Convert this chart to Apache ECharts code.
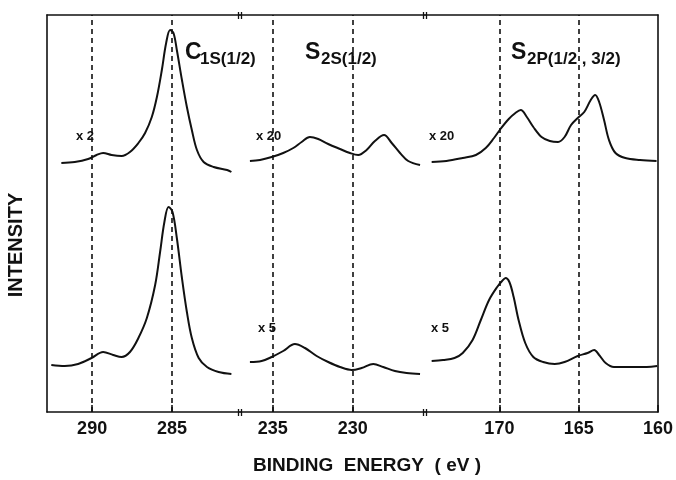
<!DOCTYPE html>
<html>
<head>
    <meta charset="utf-8">
    <title>XPS spectra</title>
    <script src="https://cdn.jsdelivr.net/npm/echarts@6/dist/echarts.min.js"></script>
</head>
<body style="margin:0">
<div id="xps" style="width: 676px;height:480px;"></div>
</body>

<script type="text/javascript">

    // binding energy (eV), intensity (arb. units)
    var c1sTop = [[291.93,249],[291.09,250],[290.25,253],[289.72,257],[289.31,259],[288.78,257],[288.15,256],[287.63,260],[287.10,269],[286.68,279],[286.26,295],[285.94,315],[285.63,342],[285.36,369],[285.11,382],[284.90,379],[284.69,362],[284.37,332],[284.06,305],[283.75,282],[283.43,262],[283.01,250],[282.38,245],[281.54,242],[281.27,240]];
    var c1sBottom = [[292.56,47],[291.72,46],[290.88,48],[290.04,54],[289.31,60],[288.68,57],[288.15,55],[287.63,60],[287.10,74],[286.57,94],[286.05,127],[285.74,160],[285.47,190],[285.21,205],[284.96,200],[284.69,174],[284.37,134],[284.06,100],[283.75,74],[283.32,54],[282.80,45],[282.07,40],[281.27,38]];
    var s2sTop = [[236.42,251],[235.79,252],[235.06,255],[234.34,259],[233.71,264],[233.19,270],[232.67,275],[232.15,273],[231.53,268],[230.79,263],[230.17,259],[229.65,257],[229.13,262],[228.61,271],[228.04,277],[227.56,269],[227.04,259],[226.53,251],[225.79,247]];
    var s2sBottom = [[236.42,50],[235.69,51],[235.06,55],[234.34,61],[233.61,68],[232.98,64],[232.25,56],[231.53,50],[230.79,45],[230.06,42],[229.44,44],[228.71,48],[228.09,45],[227.36,41],[226.63,39],[225.79,38]];
    var s2pTop = [[174.27,250],[173.34,251],[172.31,254],[171.48,257],[170.86,264],[170.34,274],[169.93,283],[169.41,293],[168.99,299],[168.65,302],[168.27,295],[167.86,285],[167.34,275],[166.82,271],[166.30,270],[165.89,275],[165.48,287],[165.06,294],[164.65,300],[164.24,312],[163.96,317],[163.71,310],[163.40,292],[163.09,272],[162.68,259],[162.06,254],[161.13,252],[160.09,251]];
    var s2pBottom = [[174.27,51],[173.55,52],[172.83,54],[172.31,59],[171.69,72],[171.17,92],[170.65,112],[170.14,125],[169.83,131],[169.61,134],[169.37,130],[169.10,115],[168.79,92],[168.37,69],[167.86,55],[167.24,50],[166.51,48],[165.89,50],[165.06,56],[164.44,59],[164.02,62],[163.71,57],[163.30,49],[162.78,45],[161.75,45],[160.71,45],[160.05,46]];

    // axis ticks and dashed reference lines per panel
    var c1sTicks = [290, 285];
    var s2sTicks = [235, 230];
    var s2pTicks = [170, 165, 160];
    var c1sRefs = [290, 285];
    var s2sRefs = [235, 230];
    var s2pRefs = [170, 165];

    var ink = '#111';
    var font = "'Liberation Sans', Arial, sans-serif";

    var myChart = echarts.init(document.getElementById('xps'));

    function bottomAxis(grid, min, max, ticks) {
        return {
            type: 'value', gridIndex: grid, position: 'bottom', inverse: true,
            min: min, max: max,
            axisLine: {show: true, lineStyle: {color: ink, width: 1.6}},
            axisTick: {show: true, inside: true, length: 7, customValues: ticks, lineStyle: {color: ink, width: 1.6}},
            axisLabel: {show: true, customValues: ticks, color: ink, fontSize: 18, fontWeight: 'bold', fontFamily: font, margin: 8},
            splitLine: {show: false}
        };
    }
    function topAxis(grid, min, max) {
        return {
            type: 'value', gridIndex: grid, position: 'top', inverse: true,
            min: min, max: max,
            axisLine: {show: true, onZero: false, lineStyle: {color: ink, width: 1.6}},
            axisTick: {show: false}, axisLabel: {show: false}, splitLine: {show: false}
        };
    }
    function yAx(grid, pos, showLine) {
        return {
            type: 'value', gridIndex: grid, position: pos, min: 0, max: 397,
            axisLine: {show: showLine, lineStyle: {color: ink, width: 1.6}},
            axisTick: {show: false}, axisLabel: {show: false}, splitLine: {show: false}
        };
    }
    function refLines(vals) {
        return {
            silent: true, symbol: 'none', label: {show: false},
            lineStyle: {color: ink, type: [5, 4], width: 1.6},
            data: vals.map(function (v) { return {xAxis: v}; })
        };
    }
    function curve(name, x, y, data, refs) {
        var s = {
            name: name, type: 'line', xAxisIndex: x, yAxisIndex: y, data: data,
            smooth: 0.35, showSymbol: false, silent: true,
            lineStyle: {color: ink, width: 2}
        };
        if (refs) s.markLine = refLines(refs);
        return s;
    }
    function txt(x, y, s, size, extra, rot) {
        var st = {text: s, fill: ink, font: 'bold ' + size + 'px ' + font, textVerticalAlign: 'top'};
        if (extra) for (var k in extra) st[k] = extra[k];
        return {type: 'text', x: x, y: y, rotation: rot || 0, style: st, silent: true};
    }
    function breakMark(x, y) {
        return {
            type: 'group', silent: true,
            children: [
                {type: 'line', shape: {x1: x - 1.5, y1: y - 3, x2: x - 1.5, y2: y + 4}, style: {stroke: ink, lineWidth: 1.3}},
                {type: 'line', shape: {x1: x + 1.5, y1: y - 3, x2: x + 1.5, y2: y + 4}, style: {stroke: ink, lineWidth: 1.3}}
            ]
        };
    }

    var mid = {textAlign: 'center', textVerticalAlign: 'middle'};

    myChart.setOption({
        animation: false,
        grid: [
            {left: 47, top: 15, width: 193, height: 397},
            {left: 240, top: 15, width: 185, height: 397},
            {left: 425, top: 15, width: 236, height: 397}
        ],
        xAxis: [
            bottomAxis(0, 280.73, 292.83, c1sTicks),
            bottomAxis(1, 225.48, 237.04, s2sTicks),
            bottomAxis(2, 160, 174.69, s2pTicks),
            topAxis(0, 280.73, 292.83),
            topAxis(1, 225.48, 237.04),
            topAxis(2, 160, 174.69)
        ],
        yAxis: [
            yAx(0, 'left', true),
            yAx(1, 'left', false),
            yAx(2, 'right', true)
        ],
        series: [
            curve('C1s x2', 0, 0, c1sTop, c1sRefs),
            curve('C1s', 0, 0, c1sBottom),
            curve('S2s x20', 1, 1, s2sTop, s2sRefs),
            curve('S2s x5', 1, 1, s2sBottom),
            curve('S2p x20', 2, 2, s2pTop, s2pRefs),
            curve('S2p x5', 2, 2, s2pBottom)
        ],
        graphic: [
            txt(16, 245, 'INTENSITY', 20, mid, Math.PI / 2),
            txt(367, 466, 'BINDING  ENERGY  ( eV )', 19, mid),
            txt(185, 41, 'C', 23), txt(200, 51, '1S(1/2)', 17),
            txt(305, 41, 'S', 23), txt(321, 51, '2S(1/2)', 17),
            txt(511, 41, 'S', 23), txt(527, 51, '2P(1/2 , 3/2)', 17),
            txt(76, 130, 'x 2', 13), txt(256, 130, 'x 20', 13), txt(429, 130, 'x 20', 13),
            txt(258, 322, 'x 5', 13), txt(431, 322, 'x 5', 13),
            breakMark(240, 15), breakMark(425, 15), breakMark(240, 412), breakMark(425, 412)
        ]
    });

</script>
</html>
